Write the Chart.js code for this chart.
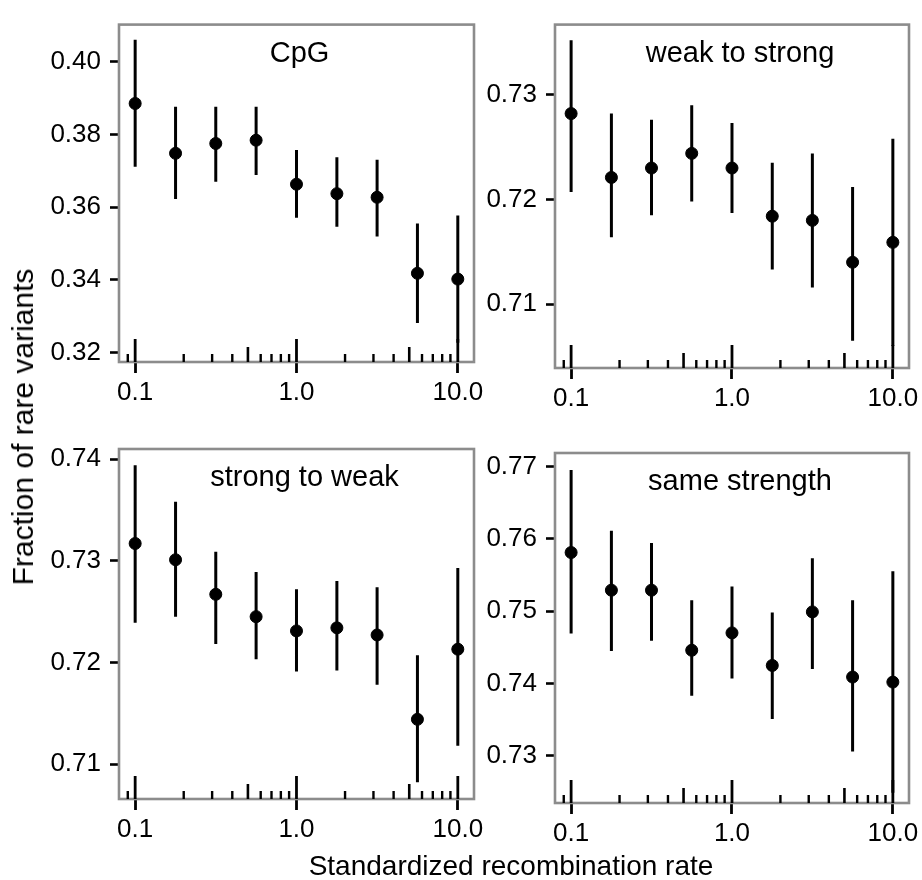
<!DOCTYPE html>
<html>
<head>
<meta charset="utf-8">
<script src="https://cdn.jsdelivr.net/npm/chart.js@4.4.1/dist/chart.umd.min.js"></script>
<style>
  html, body { margin: 0; padding: 0; background: #fff; }
  body { position: relative; width: 922px; height: 880px; overflow: hidden; font-family: "Liberation Sans", Arial, sans-serif; color: #000; }
  canvas { position: absolute; }
  .ylab { position: absolute; left: 23px; top: 427px; font-size: 30px; line-height: 30px; white-space: nowrap; transform: translate(-50%, -50%) rotate(-90deg); }
  .xlab { position: absolute; left: 511px; top: 866px; font-size: 28px; line-height: 28px; white-space: nowrap; transform: translate(-50%, -50%); }
</style>
</head>
<body>
<canvas id="cpg" width="470" height="420" style="left:30px;top:0px"></canvas>
<canvas id="ws" width="470" height="420" style="left:470px;top:0px"></canvas>
<canvas id="sw" width="470" height="440" style="left:30px;top:420px"></canvas>
<canvas id="ss" width="470" height="440" style="left:470px;top:420px"></canvas>
<div class="ylab">Fraction of rare variants</div>
<div class="xlab">Standardized recombination rate</div>
<script>
// standardized recombination rate bins (log spaced)
const rates = [0.1, 0.178, 0.316, 0.562, 1.0, 1.78, 3.16, 5.62, 10.0];

// CpG
const cpgMean = [0.3885, 0.3748, 0.3775, 0.3784, 0.3663, 0.3637, 0.3627, 0.3418, 0.3402];
const cpgLow  = [0.3711, 0.3622, 0.3670, 0.3688, 0.3571, 0.3546, 0.3519, 0.3281, 0.3227];
const cpgHigh = [0.4060, 0.3876, 0.3876, 0.3876, 0.3757, 0.3737, 0.3730, 0.3555, 0.3577];
const cpgTicks = [0.32, 0.34, 0.36, 0.38, 0.40];

// weak to strong
const wsMean = [0.7282, 0.7221, 0.7230, 0.7244, 0.7230, 0.7184, 0.7180, 0.7140, 0.7159];
const wsLow  = [0.7207, 0.7164, 0.7185, 0.7198, 0.7187, 0.7133, 0.7116, 0.7065, 0.7060];
const wsHigh = [0.7352, 0.7282, 0.7276, 0.7290, 0.7273, 0.7235, 0.7244, 0.7212, 0.7258];
const wsTicks = [0.71, 0.72, 0.73];

// strong to weak
const swMean = [0.7317, 0.7301, 0.7267, 0.7245, 0.7231, 0.7234, 0.7227, 0.7144, 0.7213];
const swLow  = [0.7239, 0.7245, 0.7218, 0.7203, 0.7191, 0.7192, 0.7178, 0.7082, 0.7118];
const swHigh = [0.7394, 0.7358, 0.7309, 0.7289, 0.7272, 0.7280, 0.7274, 0.7207, 0.7293];
const swTicks = [0.71, 0.72, 0.73, 0.74];

// same strength
const ssMean = [0.7581, 0.7529, 0.7529, 0.7446, 0.7470, 0.7425, 0.7499, 0.7409, 0.7402];
const ssLow  = [0.7469, 0.7445, 0.7459, 0.7383, 0.7407, 0.7351, 0.7420, 0.7306, 0.7249];
const ssHigh = [0.7695, 0.7611, 0.7594, 0.7515, 0.7534, 0.7498, 0.7573, 0.7515, 0.7555];
const ssTicks = [0.73, 0.74, 0.75, 0.76, 0.77];

// x axis labels and the log rug marks along the bottom
const xTicks = [0.1, 1, 10];
const rugMajor = [0.1, 1, 10];
const rugMid = [0.5, 5];
const rugMinor = [0.09, 0.2, 0.3, 0.4, 0.6, 0.7, 0.8, 0.9, 2, 3, 4, 6, 7, 8, 9];

Chart.defaults.font.family = '"Liberation Sans", Arial, sans-serif';
Chart.defaults.color = '#000';

const panelDeco = {
  id: 'panelDeco',
  beforeDatasetsDraw(chart) {
    const { ctx, chartArea: a } = chart;
    ctx.save();
    ctx.strokeStyle = '#8c8c8c';
    ctx.lineWidth = 2.6;
    ctx.strokeRect(a.left, a.top, a.width, a.height);
    ctx.restore();
  },
  afterDatasetsDraw(chart, args, opts) {
    const { ctx, chartArea: a, scales: { x } } = chart;
    ctx.save();
    ctx.strokeStyle = '#000';
    const groups = [[rugMajor, 23, 2.8], [rugMid, 15, 2.6], [rugMinor, 8, 2.4]];
    groups.forEach(([vals, len, w]) => {
      ctx.lineWidth = w;
      vals.forEach(v => {
        const px = x.getPixelForValue(v);
        ctx.beginPath();
        ctx.moveTo(px, a.bottom);
        ctx.lineTo(px, a.bottom - len);
        ctx.stroke();
      });
    });
    ctx.fillStyle = '#000';
    ctx.font = '29px "Liberation Sans", Arial, sans-serif';
    ctx.textAlign = 'center';
    ctx.textBaseline = 'alphabetic';
    ctx.fillText(opts.title, (a.left + a.right) / 2 + opts.dx, a.top + 37);
    ctx.restore();
  }
};

function makePanel(id, title, mean, low, high, ticks, yMin, yMax, box) {
  const bars = [];
  rates.forEach((r, i) => {
    bars.push({ x: r, y: low[i] }, { x: r, y: high[i] }, { x: r, y: null });
  });
  const pts = rates.map((r, i) => ({ x: r, y: mean[i] }));
  new Chart(document.getElementById(id), {
    type: 'scatter',
    data: {
      datasets: [
        { type: 'line', data: bars, showLine: true, spanGaps: false, borderColor: '#000', borderWidth: 3, pointRadius: 0, order: 2 },
        { data: pts, backgroundColor: '#000', borderColor: '#000', borderWidth: 1, pointRadius: 6, pointHoverRadius: 6, order: 1 }
      ]
    },
    options: {
      responsive: false,
      animation: false,
      events: [],
      layout: { padding: { left: 0, top: box.top, right: box.right, bottom: 0 } },
      plugins: {
        legend: { display: false },
        tooltip: { enabled: false },
        panelDeco: { title: title, dx: box.dx }
      },
      scales: {
        x: {
          type: 'logarithmic',
          min: 0.0794,
          max: 12.6,
          afterBuildTicks: s => { s.ticks = xTicks.map(v => ({ value: v })); },
          afterFit: s => { s.height = box.xh; },
          grid: { drawOnChartArea: false, drawTicks: true, tickLength: 11, tickWidth: 2.8, tickColor: '#000' },
          border: { display: false },
          ticks: { autoSkip: false, maxRotation: 0, padding: 4, font: { size: 26 }, color: '#000', callback: v => Number(v).toFixed(1) }
        },
        y: {
          min: yMin,
          max: yMax,
          afterBuildTicks: s => { s.ticks = ticks.map(v => ({ value: v })); },
          afterFit: s => { s.width = box.yw; },
          grid: { drawOnChartArea: false, drawTicks: true, tickLength: 9, tickWidth: 2.6, tickColor: '#000' },
          border: { display: false },
          ticks: { padding: 9, font: { size: 26 }, color: '#000', callback: v => Number(v).toFixed(2) }
        }
      }
    },
    plugins: [panelDeco]
  });
}

makePanel('cpg', 'CpG', cpgMean, cpgLow, cpgHigh, cpgTicks, 0.3174, 0.4102, { top: 14, right: 26, yw: 89, xh: 58, dx: 3 });
makePanel('ws', 'weak to strong', wsMean, wsLow, wsHigh, wsTicks, 0.7039, 0.7367, { top: 18, right: 31, yw: 85, xh: 52, dx: 8 });
makePanel('sw', 'strong to weak', swMean, swLow, swHigh, swTicks, 0.70656, 0.741, { top: 29, right: 26, yw: 89, xh: 61, dx: 8 });
makePanel('ss', 'same strength', ssMean, ssLow, ssHigh, ssTicks, 0.7235, 0.77185, { top: 33, right: 31, yw: 85, xh: 57, dx: 8 });
</script>
</body>
</html>
